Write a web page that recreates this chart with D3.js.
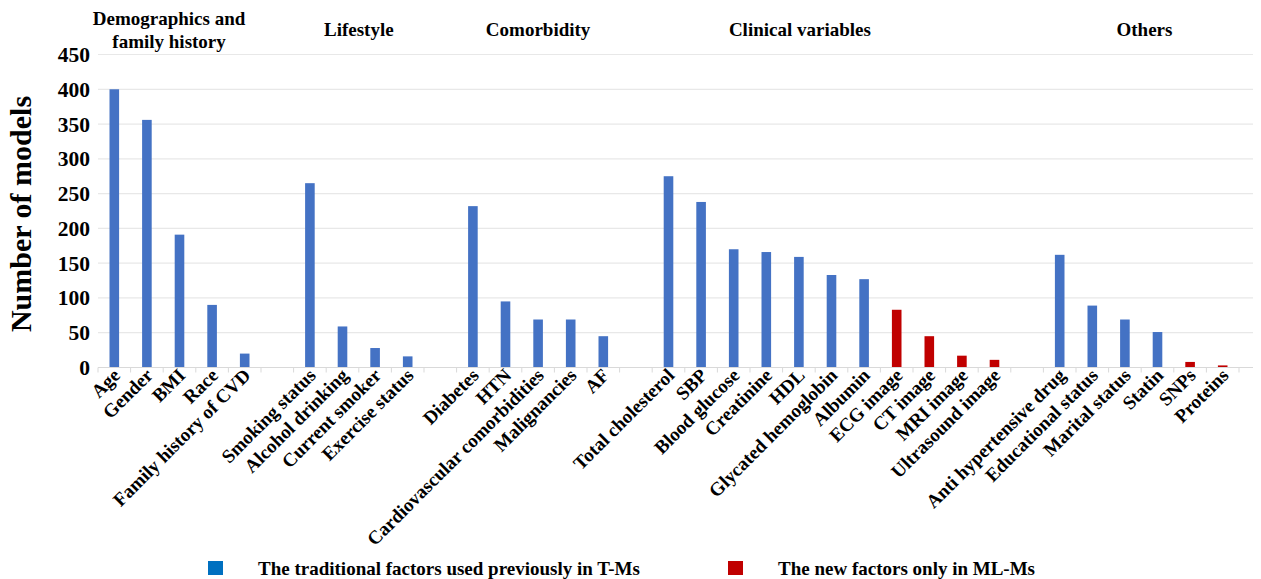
<!DOCTYPE html>
<html>
<head>
<meta charset="utf-8">
<script src="https://cdn.jsdelivr.net/npm/d3@7"></script>
<style>
	body { margin: 0; background: #fff; }
	svg { display: block; font-family: "Liberation Serif", "Times New Roman", serif; font-weight: bold; }
</style>
</head>
<body>
<svg id="chart" width="1261" height="579"></svg>
<script>
// categories, '' marks the empty slot between groups
const categories = [
	'Age', 'Gender', 'BMI', 'Race', 'Family history of CVD', '',
	'Smoking status', 'Alcohol drinking', 'Current smoker', 'Exercise status', '',
	'Diabetes', 'HTN', 'Cardiovascular comorbidities', 'Malignancies', 'AF', '',
	'Total cholesterol', 'SBP', 'Blood glucose', 'Creatinine', 'HDL', 'Glycated hemoglobin',
	'Albumin', 'ECG image', 'CT image', 'MRI image', 'Ultrasound image', '',
	'Anti hypertensive drug', 'Educational status', 'Marital status', 'Statin', 'SNPs', 'Proteins',
];
const values = [
	400, 356, 191, 90, 20, null,
	265, 59, 28, 16, null,
	232, 95, 69, 69, 45, null,
	275, 238, 170, 166, 159, 133,
	127, 83, 45, 17, 11, null,
	162, 89, 69, 51, 8, 3,
];
// 0 = traditional factor, 1 = new factor
const kinds = [
	0, 0, 0, 0, 0, null,
	0, 0, 0, 0, null,
	0, 0, 0, 0, 0, null,
	0, 0, 0, 0, 0, 0,
	0, 1, 1, 1, 1, null,
	0, 0, 0, 0, 1, 1,
];
const groupNames = [
	['Demographics and', 'family history'],
	['Lifestyle'],
	['Comorbidity'],
	['Clinical variables'],
	['Others'],
];
// where each group title sits, in category slots from the left
const groupTitleSlot = [2.18, 8.0, 13.5, 21.53, 32.1];
const yTicks = [0, 50, 100, 150, 200, 250, 300, 350, 400, 450];
const legendLabels = ['The traditional factors used previously in T-Ms', 'The new factors only in ML-Ms'];

const barColors = ['#4472C4', '#C00000'];
const legendColors = ['#0070C0', '#C00000'];

const svg = d3.select('#chart');
const plotLeft = 98, plotRight = 1239, gridRight = 1253, plotTop = 54.5, plotBottom = 367.5;

const idx = categories.map((c, i) => i);
const x = d3.scaleBand().domain(idx).range([plotLeft, plotRight]);
const y = d3.scaleLinear().domain([0, 450]).range([plotBottom, plotTop]);

// gridlines
svg.append('g')
	.selectAll('line')
	.data(yTicks.filter(t => t > 0))
	.join('line')
	.attr('x1', plotLeft).attr('x2', gridRight)
	.attr('y1', d => y(d)).attr('y2', d => y(d))
	.attr('stroke', '#e8e8e8').attr('stroke-width', 1.2);

// y labels
svg.append('g')
	.selectAll('text')
	.data(yTicks)
	.join('text')
	.attr('x', 90).attr('y', d => y(d))
	.attr('dy', '0.35em')
	.attr('text-anchor', 'end')
	.attr('font-size', 21.5)
	.text(d => d);

svg.append('text')
	.attr('transform', 'translate(31,' + ((plotTop + plotBottom) / 2 + 3) + ') rotate(-90)')
	.attr('text-anchor', 'middle')
	.attr('font-size', 30)
	.text('Number of models');

// bars
const bw = 9.6;
svg.append('g')
	.selectAll('rect')
	.data(idx.filter(i => values[i] !== null))
	.join('rect')
	.attr('x', i => x(i) + x.bandwidth() / 2 - bw / 2)
	.attr('width', bw)
	.attr('y', i => y(values[i]))
	.attr('height', i => y(0) - y(values[i]))
	.attr('fill', i => barColors[kinds[i]]);

// x axis
const xAxis = svg.append('g')
	.attr('transform', 'translate(0,' + plotBottom + ')');
xAxis.append('line')
	.attr('x1', plotLeft).attr('x2', gridRight)
	.attr('stroke', '#d9d9d9').attr('stroke-width', 1.2);
xAxis.selectAll('line.tick')
	.data(idx.concat([idx.length]))
	.join('line')
	.classed('tick', true)
	.attr('x1', i => plotLeft + i * x.step()).attr('x2', i => plotLeft + i * x.step())
	.attr('y1', 0).attr('y2', 5)
	.attr('stroke', '#d9d9d9');

xAxis.selectAll('text')
	.data(idx.filter(i => categories[i]))
	.join('text')
	.attr('transform', i => 'translate(' + (x(i) + x.bandwidth() / 2 + 7) + ',9) rotate(-45)')
	.attr('text-anchor', 'end')
	.attr('font-size', 19)
	.text(i => categories[i]);

// group titles
groupNames.forEach((lines, g) => {
	const cx = plotLeft + groupTitleSlot[g] * x.step();
	const t = svg.append('text')
		.attr('text-anchor', 'middle')
		.attr('font-size', 19);
	const y0 = lines.length > 1 ? 25 : 36;
	lines.forEach((line, k) => {
		t.append('tspan').attr('x', cx).attr('y', y0 + k * 23).text(line);
	});
});

// legend
const legendX = [208, 728];
legendLabels.forEach((label, k) => {
	svg.append('rect')
		.attr('x', legendX[k]).attr('y', 561)
		.attr('width', 15).attr('height', 14)
		.attr('fill', legendColors[k]);
	svg.append('text')
		.attr('x', legendX[k] + 50).attr('y', 575)
		.attr('font-size', 19)
		.text(label);
});
</script>
</body>
</html>
